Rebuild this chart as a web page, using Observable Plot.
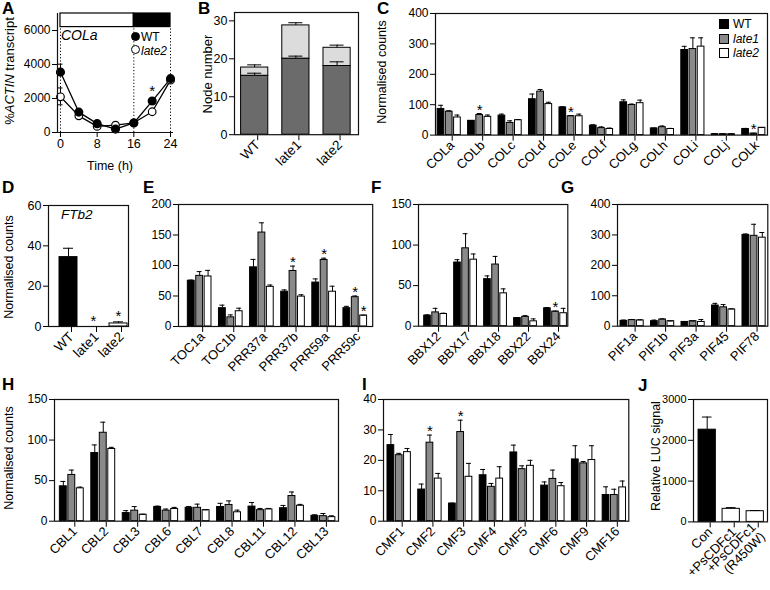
<!DOCTYPE html>
<html><head><meta charset="utf-8">
<script src="https://cdn.jsdelivr.net/npm/d3@7"></script>
<script src="https://cdn.jsdelivr.net/npm/@observablehq/plot@0.6"></script>
<style>
body{margin:0;background:#fff;font-family:"Liberation Sans",Arial,Helvetica,sans-serif;}
#fig{position:relative;width:770px;height:590px;overflow:hidden;background:#fff;}
.t{position:absolute;white-space:nowrap;color:#000;line-height:1;}
.yl{position:absolute;white-space:nowrap;line-height:1;transform:translate(-50%,-50%) rotate(-90deg);font-size:12.5px;color:#000;}
.pl{position:absolute;font-weight:bold;font-size:17px;line-height:1;color:#000;}
.sq{position:absolute;width:8px;height:8px;border:1px solid #000;}
.dotk{position:absolute;width:7px;height:7px;border-radius:50%;border:1px solid #000;}
</style></head><body><div id="fig"></div><script>
// ---------- DATA ----------
// A: COLa time course
const timeH = [0, 4, 8, 12, 16, 20, 24];
const colaWT = [3550, 1200, 520, 200, 560, 1850, 3170];
const colaWTerrHi = [4020, 1200, 520, 200, 560, 1850, 3170];
const colaLate2 = [2100, 980, 360, 430, 570, 1220, 3080];
const colaLate2errLo = [1630, 980, 360, 430, 570, 1220, 3080];
const colaLate2errHi = [2620, 980, 360, 430, 570, 1220, 3080];
const colaStarTimes = [20];
const phaseStart = [0, 16];
const phaseEnd = [16, 24];
const aXTicks = [0, 8, 16, 24];
const aYTicks = [0, 2000, 4000, 6000];

// B: node number (stacked)
const nodeCats = ["WT", "late1", "late2"];
const nodeLower = [15.5, 20.0, 18.1];
const nodeLowerErr = [16.2, 20.7, 19.2];
const nodeTotal = [17.7, 28.8, 22.9];
const nodeTotalErr = [18.4, 29.5, 23.6];
const bYTicks = [0, 10, 20, 30];

// series names
const seriesNames = ["WT", "late1", "late2"];

// C: COL genes
const colCats = ["COLa","COLb","COLc","COLd","COLe","COLf","COLg","COLh","COLi","COLj","COLk"];
const colWT   = [86, 47, 64, 118, 91, 31, 108, 22, 280, 3, 20];
const colWTe  = [98, 48, 69, 135, 93, 34, 116, 23, 292, 4, 22];
const colL1   = [77, 66, 40, 143, 62, 23, 99, 26, 283, 3, 5];
const colL1e  = [80, 71, 47, 150, 64, 27, 102, 30, 320, 4, 6];
const colL2   = [58, 60, 49, 102, 62, 20, 105, 20, 291, 3, 24];
const colL2e  = [66, 66, 51, 108, 69, 23, 115, 22, 320, 4, 25];
const colStarGroup = [1, 4, 10];
const colStarSeries = [1, 1, 1];
const cYTicks = [0, 100, 200, 300, 400];

// D: FTb2
const ftCats = ["WT", "late1", "late2"];
const ftVals = [34.4, 0, 1.5];
const ftErr = [38.8, 0, 2.3];
const ftStarGroup = [1, 2];
const dYTicks = [0, 20, 40, 60];

// E: TOC1 / PRR
const prrCats = ["TOC1a","TOC1b","PRR37a","PRR37b","PRR59a","PRR59c"];
const prrWT  = [75, 30, 97, 57, 72, 30];
const prrWTe = [76, 35, 110, 60, 78, 33];
const prrL1  = [83, 15, 154, 91, 109, 48];
const prrL1e = [90, 19, 170, 99, 112, 50];
const prrL2  = [82, 25, 65, 49, 57, 18];
const prrL2e = [92, 30, 68, 52, 66, 18.5];
const prrStarGroup = [3, 4, 5, 5];
const prrStarSeries = [1, 1, 1, 2];
const eYTicks = [0, 50, 100, 150, 200];

// F: BBX
const bbxCats = ["BBX12","BBX17","BBX18","BBX22","BBX24"];
const bbxWT  = [13, 78.5, 58, 10, 22];
const bbxWTe = [14, 82, 62, 10.5, 23];
const bbxL1  = [17, 96, 76, 11.5, 18];
const bbxL1e = [22, 114, 86, 13, 18.5];
const bbxL2  = [15, 82, 40.5, 6, 16];
const bbxL2e = [16, 89, 46, 9, 22];
const bbxStarGroup = [4];
const bbxStarSeries = [1];
const fYTicks = [0, 50, 100, 150];

// G: PIF
const pifCats = ["PIF1a","PIF1b","PIF3a","PIF45","PIF78"];
const pifWT  = [17.5, 16.5, 14, 68, 300];
const pifWTe = [20, 20, 15, 75, 303];
const pifL1  = [20, 22, 16.5, 62, 297];
const pifL1e = [22, 24, 17, 71, 335];
const pifL2  = [19, 16.5, 14, 55, 291];
const pifL2e = [21, 17, 22, 57, 308];
const gYTicks = [0, 100, 200, 300, 400];

// H: CBL
const cblCats = ["CBL1","CBL2","CBL3","CBL6","CBL7","CBL8","CBL11","CBL12","CBL13"];
const cblWT  = [43, 84, 10, 17.5, 16.5, 17.5, 18, 16, 6.6];
const cblWTe = [49, 94, 13, 18.6, 18, 22, 23, 19.4, 7.9];
const cblL1  = [57, 109, 13, 13, 16.5, 20, 13.6, 31, 6.2];
const cblL1e = [63, 122, 18, 15, 21, 25, 15.7, 36, 9.5];
const cblL2  = [40.5, 89, 8, 15, 13.6, 11, 14.5, 19, 5];
const cblL2e = [42, 91, 8.5, 17, 14, 13.6, 15.7, 20.7, 6.6];
const hYTicks = [0, 50, 100, 150];

// I: CMF
const cmfCats = ["CMF1","CMF2","CMF3","CMF4","CMF5","CMF6","CMF9","CMF16"];
const cmfWT  = [25, 10.4, 5.8, 15.1, 22.6, 11.7, 20.3, 8.6];
const cmfWTe = [28.5, 12.2, 5.9, 17, 25, 12.9, 24.8, 11.3];
const cmfL1  = [21.7, 25.8, 29.3, 11.3, 17.1, 13.9, 19, 8.6];
const cmfL1e = [22.3, 28.3, 33.2, 12.4, 18.2, 16.8, 19.6, 10.5];
const cmfL2  = [22.7, 14, 14.6, 14, 18.2, 11.5, 20.1, 11.1];
const cmfL2e = [23.9, 15.7, 19, 17.9, 20, 12.7, 24.8, 13.2];
const cmfStarGroup = [1, 2];
const cmfStarSeries = [1, 1];
const iYTicks = [0, 10, 20, 30, 40];

// J: LUC
const lucCats = ["Con", "+PsCDFc1", "+PsCDFc1\n(R450W)"];
const lucVals = [2260, 320, 262];
const lucErr = [2570, 350, 279];
const jYTicks = [0, 1000, 2000, 3000];

// ---------- DRAWING ----------
const FONT = '"Liberation Sans", Arial, Helvetica, sans-serif';
const SERIES_FILL = ["#000000", "#8a8a8a", "#ffffff"];
const OFFSETS = [-0.27, 0, 0.27];
const BW = 0.22, CAP = 0.08;
const fig = document.getElementById("fig");
const ML = 50, MR = 12, MT = 12, MB = 75;

function mount(svg, L, T) {
  svg.style.position = "absolute";
  svg.style.left = (L - ML) + "px";
  svg.style.top = (T - MT) + "px";
  svg.style.overflow = "visible";
  fig.appendChild(svg);
}
function base(box, xDomain, yDomain, marks) {
  const fw = box.R - box.L, fh = box.B - box.T;
  const svg = Plot.plot({
    width: fw + ML + MR, height: fh + MT + MB,
    marginLeft: ML, marginRight: MR, marginTop: MT, marginBottom: MB,
    x: {domain: xDomain}, y: {domain: yDomain},
    style: {background: "transparent", fontFamily: FONT, color: "#000", overflow: "visible"},
    marks
  });
  mount(svg, box.L, box.T);
  return svg;
}
function yAxis(ticks, fs = 12) {
  return Plot.axisY(ticks, {tickSize: 5, tickPadding: 2, fontSize: fs, label: null, tickFormat: "d"});
}
function catAxis(cats, fs = 13) {
  return Plot.axisX(d3.range(cats.length), {tickSize: 5, tickPadding: 2, tickRotate: -45, fontSize: fs, label: null, dx: 3, dy: 1, tickFormat: i => cats[i]});
}
function frame() { return Plot.frame({stroke: "#111", strokeWidth: 1.2}); }

function grouped(p) {
  const rows = [];
  p.vals.forEach((vals, k) => vals.forEach((v, i) => rows.push({i, k, v, e: p.errs[k][i], x: i + OFFSETS[k]})));
  const stars = (p.starGroup || []).map((g, j) => rows.find(d => d.i === g && d.k === p.starSeries[j]));
  const withErr = rows.filter(d => d.e > d.v);
  base(p.box, p.xDomain, [0, p.yMax], [
    Plot.rect(rows, {x1: d => d.x - BW / 2, x2: d => d.x + BW / 2, y1: () => 0, y2: "v", fill: d => SERIES_FILL[d.k], stroke: "#000", strokeWidth: 1}),
    Plot.ruleX(withErr, {x: "x", y1: "v", y2: "e", stroke: "#000", strokeWidth: 1}),
    Plot.ruleY(withErr, {y: "e", x1: d => d.x - CAP, x2: d => d.x + CAP, stroke: "#000", strokeWidth: 1}),
    Plot.text(stars, {x: "x", y: "e", text: () => "*", dy: 1, lineAnchor: "bottom", fontSize: 15}),
    frame(),
    yAxis(p.yTicks),
    catAxis(p.cats)
  ]);
}

// ---- Panel A ----
(function () {
  const wt = timeH.map((t, i) => ({t, v: colaWT[i], hi: colaWTerrHi[i]}));
  const l2 = timeH.map((t, i) => ({t, v: colaLate2[i], lo: colaLate2errLo[i], hi: colaLate2errHi[i]}));
  const phases = phaseStart.map((s, i) => ({s, e: phaseEnd[i], k: i}));
  const xD = [-0.65, 24.65];
  const errWT = wt.filter(d => d.hi > d.v);
  const errL2 = l2.filter(d => d.hi > d.lo);
  const caps = [...errWT.map(d => ({t: d.t, y: d.hi})), ...errL2.flatMap(d => [{t: d.t, y: d.hi}, {t: d.t, y: d.lo}])];
  base({L: 57, R: 173, T: 13, B: 132}, xD, [0, 7000], [
    Plot.ruleX(phaseStart.concat(phaseEnd.slice(-1)), {y1: () => 0, y2: () => 6200, stroke: "#000", strokeWidth: 1, strokeDasharray: "1.2,2"}),
    Plot.rect(phases, {x1: "s", x2: "e", y1: () => 6200, y2: () => 7000, fill: d => d.k ? "#000" : "#fff", stroke: "#000", strokeWidth: 1.2}),
    Plot.ruleX(errWT, {x: "t", y1: "v", y2: "hi", stroke: "#000"}),
    Plot.ruleX(errL2, {x: "t", y1: "lo", y2: "hi", stroke: "#000"}),
    Plot.ruleY(caps, {y: "y", x1: d => d.t - 0.55, x2: d => d.t + 0.55, stroke: "#000"}),
    Plot.line(wt, {x: "t", y: "v", stroke: "#000", strokeWidth: 1.3}),
    Plot.line(l2, {x: "t", y: "v", stroke: "#000", strokeWidth: 1.3}),
    Plot.dot(l2, {x: "t", y: "v", r: 3.8, fill: "#fff", stroke: "#000", strokeWidth: 1.2}),
    Plot.dot(wt, {x: "t", y: "v", r: 3.8, fill: "#000", stroke: "#000"}),
    Plot.text(colaStarTimes.map(t => wt.find(d => d.t === t)), {x: "t", y: "v", text: () => "*", dy: -5, lineAnchor: "bottom", fontSize: 15}),
    Plot.ruleX([xD[0]], {stroke: "#111", strokeWidth: 1.2}),
    Plot.ruleY([0], {stroke: "#111", strokeWidth: 1.2}),
    yAxis(aYTicks),
    Plot.axisX(aXTicks, {tickSize: 5, tickPadding: 2, fontSize: 12.5, label: null})
  ]);
})();

// ---- Panel B ----
(function () {
  const rows = nodeCats.map((c, i) => ({i, lo: nodeLower[i], loE: nodeLowerErr[i], tot: nodeTotal[i], totE: nodeTotalErr[i]}));
  const w = 0.33, cap = 0.17;
  base({L: 234.3, R: 358.3, T: 12.3, B: 134.5}, [-0.49, 2.52], [0, 32.2], [
    Plot.rect(rows, {x1: d => d.i - w, x2: d => d.i + w, y1: "lo", y2: "tot", fill: "#dcdcdc", stroke: "#000", strokeWidth: 1}),
    Plot.rect(rows, {x1: d => d.i - w, x2: d => d.i + w, y1: () => 0, y2: "lo", fill: "#6b6b6b", stroke: "#000", strokeWidth: 1}),
    Plot.ruleX(rows, {x: "i", y1: "lo", y2: "loE", stroke: "#000"}),
    Plot.ruleY(rows, {y: "loE", x1: d => d.i - cap, x2: d => d.i + cap, stroke: "#000"}),
    Plot.ruleX(rows, {x: "i", y1: "tot", y2: "totE", stroke: "#000"}),
    Plot.ruleY(rows, {y: "totE", x1: d => d.i - cap, x2: d => d.i + cap, stroke: "#000"}),
    frame(),
    yAxis(bYTicks, 12.5),
    catAxis(nodeCats, 13.5)
  ]);
})();

// ---- Panel C ----
grouped({box: {L: 435, R: 767, T: 12.7, B: 134.3}, xDomain: [-0.45, 10.45], yMax: 400, yTicks: cYTicks, cats: colCats,
  vals: [colWT, colL1, colL2], errs: [colWTe, colL1e, colL2e], starGroup: colStarGroup, starSeries: colStarSeries});

// ---- Panel D ----
(function () {
  const rows = ftCats.map((c, i) => ({i, v: ftVals[i], e: ftErr[i]}));
  const w = 0.36, cap = 0.2;
  const withErr = rows.filter(d => d.e > d.v);
  base({L: 48.3, R: 128.3, T: 205, B: 326}, [-0.8, 2.4], [0, 60], [
    Plot.rect(rows.filter(d => d.v > 0), {x1: d => d.i - w, x2: d => d.i + w, y1: () => 0, y2: "v", fill: d => SERIES_FILL[d.i], stroke: "#000", strokeWidth: 1}),
    Plot.ruleX(withErr, {x: "i", y1: "v", y2: "e", stroke: "#000"}),
    Plot.ruleY(withErr, {y: "e", x1: d => d.i - cap, x2: d => d.i + cap, stroke: "#000"}),
    Plot.text(ftStarGroup.map(g => rows[g]), {x: "i", y: "e", text: () => "*", dy: -1, lineAnchor: "bottom", fontSize: 15}),
    frame(),
    yAxis(dYTicks, 12.5),
    catAxis(ftCats, 13.5)
  ]);
})();

// ---- Panels E, F, G, H, I ----
grouped({box: {L: 178.3, R: 372.5, T: 204, B: 326}, xDomain: [-0.68, 5.56], yMax: 200, yTicks: eYTicks, cats: prrCats,
  vals: [prrWT, prrL1, prrL2], errs: [prrWTe, prrL1e, prrL2e], starGroup: prrStarGroup, starSeries: prrStarSeries});
grouped({box: {L: 417.7, R: 567, T: 204.3, B: 326}, xDomain: [-0.57, 4.41], yMax: 150, yTicks: fYTicks, cats: bbxCats,
  vals: [bbxWT, bbxL1, bbxL2], errs: [bbxWTe, bbxL1e, bbxL2e], starGroup: bbxStarGroup, starSeries: bbxStarSeries});
grouped({box: {L: 616.7, R: 767, T: 204.3, B: 326}, xDomain: [-0.48, 4.45], yMax: 400, yTicks: gYTicks, cats: pifCats,
  vals: [pifWT, pifL1, pifL2], errs: [pifWTe, pifL1e, pifL2e]});
grouped({box: {L: 54.3, R: 338.3, T: 399.3, B: 521}, xDomain: [-0.55, 8.48], yMax: 150, yTicks: hYTicks, cats: cblCats,
  vals: [cblWT, cblL1, cblL2], errs: [cblWTe, cblL1e, cblL2e]});
grouped({box: {L: 382.7, R: 628, T: 399.3, B: 521}, xDomain: [-0.51, 7.47], yMax: 40, yTicks: iYTicks, cats: cmfCats,
  vals: [cmfWT, cmfL1, cmfL2], errs: [cmfWTe, cmfL1e, cmfL2e], starGroup: cmfStarGroup, starSeries: cmfStarSeries});

// ---- Panel J ----
(function () {
  const rows = lucCats.map((c, i) => ({i, v: lucVals[i], e: lucErr[i]}));
  const w = 0.36, cap = 0.2;
  base({L: 693.3, R: 767.3, T: 399.3, B: 521.7}, [-0.57, 2.51], [0, 3000], [
    Plot.rect(rows, {x1: d => d.i - w, x2: d => d.i + w, y1: () => 0, y2: "v", fill: d => d.i === 0 ? "#000" : "#fff", stroke: "#000", strokeWidth: 1}),
    Plot.ruleX(rows, {x: "i", y1: "v", y2: "e", stroke: "#000"}),
    Plot.ruleY(rows, {y: "e", x1: d => d.i - cap, x2: d => d.i + cap, stroke: "#000"}),
    frame(),
    yAxis(jYTicks, 11),
    catAxis(lucCats, 13)
  ]);
})();

// ---------- HTML TEXT ----------
function addText(cls, html, style) {
  const d = document.createElement("div");
  d.className = cls; d.innerHTML = html;
  Object.assign(d.style, style);
  fig.appendChild(d);
}
// panel letters
[["A", 2, 0], ["B", 198, 0], ["C", 377, 0], ["D", 2, 179], ["E", 143, 179], ["F", 371, 179], ["G", 561, 179],
 ["H", 2, 376], ["I", 362, 376], ["J", 638, 377]].forEach(([s, x, y]) => addText("pl", s, {left: x + "px", top: y + "px"}));
// y labels
addText("yl", "%<i>ACTIN</i> transcript", {left: "9px", top: "71px", fontSize: "13px"});
addText("yl", "Node number", {left: "207px", top: "74px", fontSize: "13px"});
addText("yl", "Normalised counts", {left: "382px", top: "72px"});
addText("yl", "Normalised counts", {left: "9px", top: "267px"});
addText("yl", "Normalised counts", {left: "9px", top: "458px"});
addText("yl", "Relative LUC signal", {left: "656px", top: "456px"});
// A extras
addText("t", "Time (h)", {left: "110px", top: "160px", fontSize: "12.5px", transform: "translateX(-50%)"});
addText("t", "<i>COLa</i>", {left: "61px", top: "28px", fontSize: "14px"});
addText("dotk", "", {left: "131px", top: "31.5px", background: "#000"});
addText("dotk", "", {left: "131px", top: "45px", background: "#fff"});
addText("t", "WT", {left: "141px", top: "31px", fontSize: "12px"});
addText("t", "<i>late2</i>", {left: "141px", top: "44.5px", fontSize: "12px"});
// D label
addText("t", "<i>FTb2</i>", {left: "61px", top: "208px", fontSize: "13.5px"});
// C legend
[["WT", "#000"], ["<i>late1</i>", "#8a8a8a"], ["<i>late2</i>", "#fff"]].forEach(([s, c], k) => {
  const cy = 24 + k * 14.6;
  addText("sq", "", {left: "719px", top: (cy - 5) + "px", background: c});
  addText("t", s, {left: "733px", top: (cy - 6) + "px", fontSize: "12px"});
});
</script></body></html>
